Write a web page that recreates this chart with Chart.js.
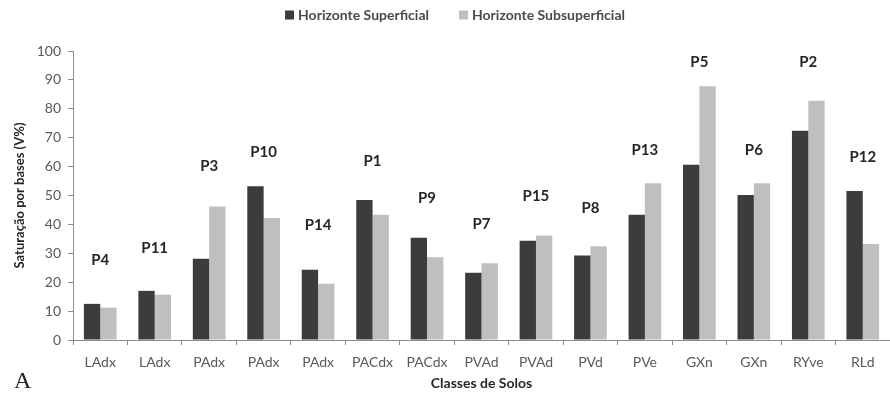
<!DOCTYPE html>
<html>
<head>
<meta charset="utf-8">
<script src="https://cdn.jsdelivr.net/npm/chart.js@4"></script>
<style>
html,body{margin:0;padding:0;background:#fff;}
#wrap{width:890px;height:396px;position:relative;}
</style>
</head>
<body>
<div id="wrap"><canvas id="c" width="890" height="396"></canvas></div>
<script>
const categories = ['LAdx','LAdx','PAdx','PAdx','PAdx','PACdx','PACdx','PVAd','PVAd','PVd','PVe','GXn','GXn','RYve','RLd'];
const profiles = ['P4','P11','P3','P10','P14','P1','P9','P7','P15','P8','P13','P5','P6','P2','P12'];
const superficial = [12.5, 17, 28.1, 53.2, 24.3, 48.4, 35.4, 23.3, 34.3, 29.2, 43.3, 60.6, 50.2, 72.4, 51.6];
const subsuperficial = [11.2, 15.7, 46.2, 42.2, 19.5, 43.3, 28.6, 26.6, 36.2, 32.4, 54.2, 87.8, 54.2, 82.8, 33.2];
const profileLabelLevels = [27.7, 31.8, 60.2, 65, 39.6, 62, 49, 40, 49.8, 45.6, 65.7, 96.3, 65.7, 96, 63.4];
const yTicks = [0,10,20,30,40,50,60,70,80,90,100];

const FONT = 'Lato, "Open Sans", sans-serif';

const profilePlugin = {
  id: 'profiles',
  afterDatasetsDraw(chart) {
    const ctx = chart.ctx;
    const x = chart.scales.x, y = chart.scales.y;
    ctx.save();
    ctx.font = 'bold 15px ' + FONT;
    ctx.fillStyle = '#262626';
    ctx.textAlign = 'center';
    ctx.textBaseline = 'middle';
    profiles.forEach((p, i) => {
      ctx.fillText(p, x.getPixelForValue(i), y.getPixelForValue(profileLabelLevels[i]));
    });
    ctx.restore();
  }
};

const legendPlugin = {
  id: 'customLegend',
  afterDraw(chart) {
    const ctx = chart.ctx;
    ctx.save();
    ctx.font = 'bold 14px ' + FONT;
    ctx.textBaseline = 'middle';
    const ds = chart.data.datasets;
    const box = 9, gap = 4, itemGap = 30;
    const widths = ds.map(d => box + gap + ctx.measureText(d.label).width);
    const total = widths.reduce((a,b)=>a+b,0) + itemGap*(ds.length-1);
    let x = 455 - total/2;
    const yc = 15;
    ds.forEach((d, i) => {
      ctx.fillStyle = d.backgroundColor;
      ctx.fillRect(x, yc - box/2, box, box);
      ctx.fillStyle = '#4a4a4a';
      ctx.textAlign = 'left';
      ctx.fillText(d.label, x + box + gap, yc);
      x += widths[i] + itemGap;
    });
    ctx.restore();
  }
};

const letterPlugin = {
  id: 'panelLetter',
  afterDraw(chart) {
    const ctx = chart.ctx;
    ctx.save();
    ctx.font = '24px "Liberation Serif", "DejaVu Serif", serif';
    ctx.fillStyle = '#222';
    ctx.textAlign = 'left';
    ctx.textBaseline = 'alphabetic';
    ctx.fillText('A', 14, 388);
    ctx.restore();
  }
};

new Chart(document.getElementById('c'), {
  type: 'bar',
  data: {
    labels: categories,
    datasets: [
      { label: 'Horizonte Superficial', data: superficial, backgroundColor: '#3c3c3c' },
      { label: 'Horizonte Subsuperficial', data: subsuperficial, backgroundColor: '#bfbfbf' }
    ]
  },
  options: {
    responsive: false,
    animation: false,
    devicePixelRatio: 1,
    layout: { padding: { top: 51, right: -5, left: 0, bottom: 0 } },
    datasets: { bar: { categoryPercentage: 0.6, barPercentage: 1.0 } },
    plugins: { legend: { display: false }, tooltip: { enabled: false } },
    scales: {
      x: {
        offset: true,
        grid: { offset: true, drawOnChartArea: false, tickLength: 5, color: '#8c8c8c' },
        border: { color: '#8c8c8c' },
        ticks: { color: '#595959', font: { family: FONT, size: 14 }, padding: 9, maxRotation: 0, autoSkip: false },
        title: { display: true, text: 'Classes de Solos', color: '#262626', font: { family: FONT, size: 14, weight: 'bold' }, padding: { top: 0, bottom: 4 } },
        afterFit(s) { s.height = 56; }
      },
      y: {
        min: 0, max: 100,
        afterBuildTicks(s) { s.ticks = yTicks.map(v => ({ value: v })); },
        grid: { drawOnChartArea: false, tickLength: 5, color: '#8c8c8c' },
        border: { color: '#8c8c8c' },
        ticks: { color: '#595959', font: { family: FONT, size: 14 }, padding: 7 },
        title: { display: true, text: 'Saturação por bases (V%)', color: '#262626', font: { family: FONT, size: 13, weight: 'bold' }, padding: { top: 12, bottom: 0 } },
        afterFit(s) { s.width = 73; }
      }
    }
  },
  plugins: [profilePlugin, legendPlugin, letterPlugin]
});
</script>
</body>
</html>
